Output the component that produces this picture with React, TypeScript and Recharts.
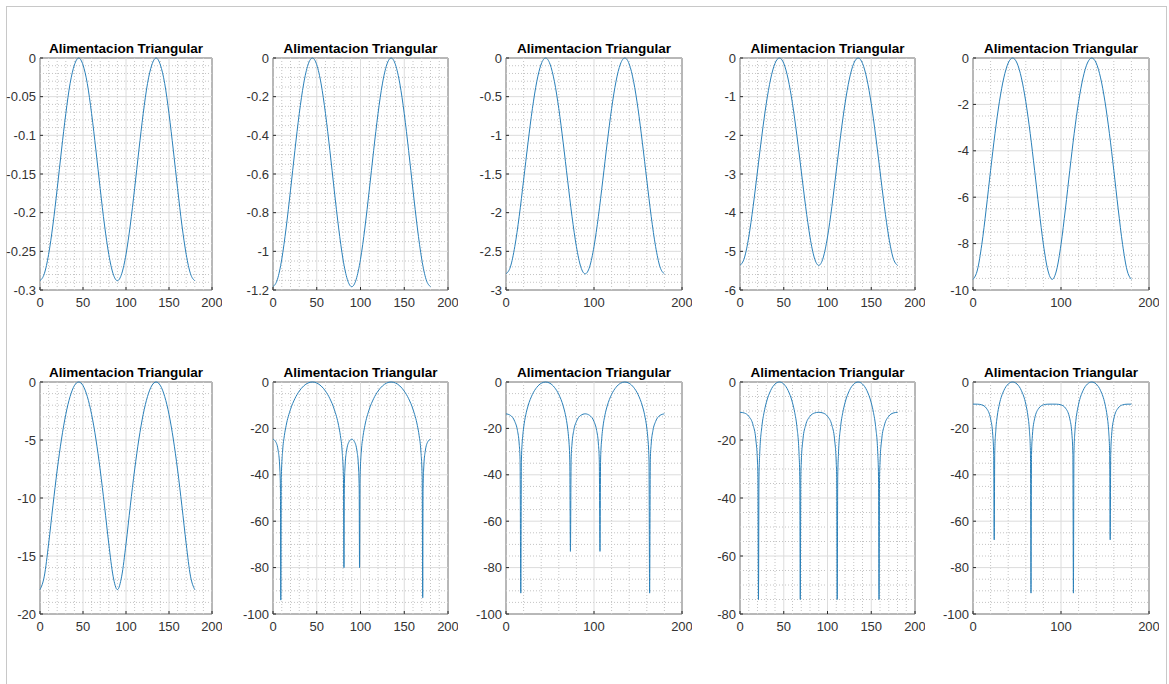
import { LineChart, Line, XAxis, YAxis, ReferenceLine, ReferenceArea } from 'recharts'

const TITLE = 'Alimentacion Triangular'

// angle samples (deg) shared by the smooth patterns
const ANGLES = [0, 5, 10, 15, 20, 25, 30, 35, 40, 45, 50, 55, 60, 65, 70, 75, 80, 85, 90, 95, 100, 105, 110, 115, 120, 125, 130, 135, 140, 145, 150, 155, 160, 165, 170, 175, 180]

const DB_1 = [-0.288, -0.279, -0.254, -0.216, -0.169, -0.119, -0.072, -0.033, -0.009, 0, -0.009, -0.033, -0.072, -0.119, -0.169, -0.216, -0.254, -0.279, -0.288, -0.279, -0.254, -0.216, -0.169, -0.119, -0.072, -0.033, -0.009, 0, -0.009, -0.033, -0.072, -0.119, -0.169, -0.216, -0.254, -0.279, -0.288]
const DB_2 = [-1.183, -1.146, -1.041, -0.879, -0.684, -0.479, -0.288, -0.134, -0.035, 0, -0.035, -0.134, -0.288, -0.479, -0.684, -0.879, -1.041, -1.146, -1.183, -1.146, -1.041, -0.879, -0.684, -0.479, -0.288, -0.134, -0.035, 0, -0.035, -0.134, -0.288, -0.479, -0.684, -0.879, -1.041, -1.146, -1.183]
const DB_3 = [-2.791, -2.701, -2.438, -2.048, -1.579, -1.097, -0.655, -0.303, -0.078, 0, -0.078, -0.303, -0.655, -1.097, -1.579, -2.048, -2.438, -2.701, -2.791, -2.701, -2.438, -2.048, -1.579, -1.097, -0.655, -0.303, -0.078, 0, -0.078, -0.303, -0.655, -1.097, -1.579, -2.048, -2.438, -2.701, -2.791]
const DB_4 = [-5.363, -5.171, -4.63, -3.84, -2.923, -2.003, -1.183, -0.543, -0.138, 0, -0.138, -0.543, -1.183, -2.003, -2.923, -3.84, -4.63, -5.171, -5.363, -5.171, -4.63, -3.84, -2.923, -2.003, -1.183, -0.543, -0.138, 0, -0.138, -0.543, -1.183, -2.003, -2.923, -3.84, -4.63, -5.171, -5.363]
const DB_5 = [-9.542, -9.137, -8.038, -6.51, -4.839, -3.248, -1.887, -0.857, -0.216, 0, -0.216, -0.857, -1.887, -3.248, -4.839, -6.51, -8.038, -9.137, -9.542, -9.137, -8.038, -6.51, -4.839, -3.248, -1.887, -0.857, -0.216, 0, -0.216, -0.857, -1.887, -3.248, -4.839, -6.51, -8.038, -9.137, -9.542]
const DB_6 = [-17.9, -16.74, -13.96, -10.68, -7.58, -4.92, -2.79, -1.25, -0.31, 0, -0.31, -1.25, -2.79, -4.92, -7.58, -10.68, -13.96, -16.74, -17.9, -16.74, -13.96, -10.68, -7.58, -4.92, -2.79, -1.25, -0.31, 0, -0.31, -1.25, -2.79, -4.92, -7.58, -10.68, -13.96, -16.74, -17.9]

// patterns with nulls, sampled tighter around each null
const ANGLES_7 = [0, 3, 6, 7.5, 8.5, 8.9, 9.5, 11, 13, 15, 20, 25, 30, 35, 40, 45, 50, 55, 60, 65, 70, 75, 77, 79, 80.5, 81.1, 81.5, 82.5, 84, 87, 90, 93, 96, 97.5, 98.5, 98.9, 99.5, 101, 103, 105, 110, 115, 120, 125, 130, 135, 140, 145, 150, 155, 160, 165, 167, 169, 170.5, 171.1, 171.5, 172.5, 174, 177, 180]
const DB_7 = [-24.65, -25.69, -29.84, -35.36, -46.1, -94, -41.2, -29.75, -23.07, -18.79, -11.78, -7.18, -3.93, -1.72, -0.43, 0, -0.43, -1.72, -3.93, -7.18, -11.78, -18.79, -23.07, -29.75, -41.2, -80, -46.1, -35.36, -29.84, -25.69, -24.65, -25.69, -29.84, -35.36, -46.1, -80, -41.2, -29.75, -23.07, -18.79, -11.78, -7.18, -3.93, -1.72, -0.43, 0, -0.43, -1.72, -3.93, -7.18, -11.78, -18.79, -23.07, -29.75, -41.2, -93, -46.1, -35.36, -29.84, -25.69, -24.65]

const ANGLES_8 = [0, 5, 10, 13, 15, 16, 16.8, 17.5, 19, 20, 22.5, 25, 30, 35, 40, 45, 50, 55, 60, 65, 67.5, 70, 71, 72.5, 73.2, 74, 75, 77, 80, 85, 90, 95, 100, 103, 105, 106, 106.8, 107.5, 109, 110, 112.5, 115, 120, 125, 130, 135, 140, 145, 150, 155, 157.5, 160, 161, 162.5, 163.2, 164, 165, 167, 170, 175, 180]
const DB_8 = [-13.72, -14.39, -17.03, -20.88, -26.71, -33.53, -91, -33.64, -23.38, -19.83, -14.12, -10.36, -5.36, -2.29, -0.56, 0, -0.56, -2.29, -5.36, -10.36, -14.12, -19.83, -23.38, -33.64, -73, -33.53, -26.71, -20.88, -17.03, -14.39, -13.72, -14.39, -17.03, -20.88, -26.71, -33.53, -73, -33.64, -23.38, -19.83, -14.12, -10.36, -5.36, -2.29, -0.56, 0, -0.56, -2.29, -5.36, -10.36, -14.12, -19.83, -23.38, -33.64, -91, -33.53, -26.71, -20.88, -17.03, -14.39, -13.72]

const ANGLES_9 = [0, 5, 10, 15, 18, 20, 20.5, 21.1, 21.7, 22.5, 25, 27.5, 30, 35, 40, 45, 50, 55, 60, 62.5, 65, 67.5, 68.3, 68.9, 69.5, 70, 72, 75, 80, 85, 90, 95, 100, 105, 108, 110, 110.5, 111.1, 111.7, 112.5, 115, 117.5, 120, 125, 130, 135, 140, 145, 150, 152.5, 155, 157.5, 158.3, 158.9, 159.5, 160, 162, 165, 170, 175, 180]
const DB_9 = [-10.44, -10.71, -11.82, -14.92, -19.61, -27.89, -32.94, -75, -32.64, -24.98, -15.36, -10.48, -7.18, -2.95, -0.71, 0, -0.71, -2.95, -7.18, -10.48, -15.36, -24.98, -32.64, -75, -32.94, -27.89, -19.61, -14.92, -11.82, -10.71, -10.44, -10.71, -11.82, -14.92, -19.61, -27.89, -32.94, -75, -32.64, -24.98, -15.36, -10.48, -7.18, -2.95, -0.71, 0, -0.71, -2.95, -7.18, -10.48, -15.36, -24.98, -32.64, -75, -32.94, -27.89, -19.61, -14.92, -11.82, -10.71, -10.44]

const ANGLES_10 = [0, 5, 10, 15, 20, 22.5, 23.5, 24.1, 24.7, 26, 27.5, 30, 35, 40, 45, 50, 55, 60, 62.5, 64, 65.3, 65.9, 66.5, 67.5, 70, 75, 80, 85, 90, 95, 100, 105, 110, 112.5, 113.5, 114.1, 114.7, 116, 117.5, 120, 125, 130, 135, 140, 145, 150, 152.5, 154, 155.3, 155.9, 156.5, 157.5, 160, 165, 170, 175, 180]
const DB_10 = [-9.54, -9.56, -9.86, -11.21, -15.86, -23.04, -31.22, -68, -30.67, -20.32, -14.87, -9.54, -3.73, -0.88, 0, -0.88, -3.73, -9.54, -14.87, -20.32, -30.67, -91, -31.22, -23.04, -15.86, -11.21, -9.86, -9.56, -9.54, -9.56, -9.86, -11.21, -15.86, -23.04, -31.22, -91, -30.67, -20.32, -14.87, -9.54, -3.73, -0.88, 0, -0.88, -3.73, -9.54, -14.87, -20.32, -30.67, -68, -31.22, -23.04, -15.86, -11.21, -9.86, -9.56, -9.54]

const X_TICKS_50 = [0, 50, 100, 150, 200]
const X_TICKS_100 = [0, 100, 200]
const Y_TICKS_1 = [-0.3, -0.25, -0.2, -0.15, -0.1, -0.05, 0]
const Y_TICKS_2 = [-1.2, -1, -0.8, -0.6, -0.4, -0.2, 0]
const Y_TICKS_3 = [-3, -2.5, -2, -1.5, -1, -0.5, 0]
const Y_TICKS_4 = [-6, -5, -4, -3, -2, -1, 0]
const Y_TICKS_5 = [-10, -8, -6, -4, -2, 0]
const Y_TICKS_6 = [-20, -15, -10, -5, 0]
const Y_TICKS_100 = [-100, -80, -60, -40, -20, 0]
const Y_TICKS_80 = [-80, -60, -40, -20, 0]

const COLS = [40, 273, 506, 740, 973]
const COL_W = [172, 175, 176, 175, 176]
const ROWS = [58, 382]
const PLOT_H = 232

const FONT = '"Liberation Sans", Arial, Helvetica, sans-serif'
const AXIS = '#262626'
const LINE = '#2a80b9'

function minorValues(ticks: number[], step: number) {
  const lo = ticks[0]
  const hi = ticks[ticks.length - 1]
  const out: number[] = []
  const n = Math.round((hi - lo) / step)
  for (let i = 0; i <= n; i++) {
    const v = Math.round((lo + i * step) * 1e6) / 1e6
    if (!ticks.some((t) => Math.abs(t - v) < 1e-6)) out.push(v)
  }
  return out
}

function XTick(props: any) {
  const { x, y, payload } = props
  return (
    <g>
      <line x1={x} y1={y - 8} x2={x} y2={y - 11} stroke={AXIS} />
      <text x={x} y={y} dy="0.71em" textAnchor="middle" fontSize={13} fill="#333" fontFamily={FONT}>
        {payload.value}
      </text>
    </g>
  )
}

function YTick(props: any) {
  const { x, y, payload } = props
  return (
    <g>
      <line x1={x + 4} y1={y} x2={x + 7} y2={y} stroke={AXIS} />
      <text x={x} y={y} dy="0.355em" textAnchor="end" fontSize={13} fill="#333" fontFamily={FONT}>
        {payload.value}
      </text>
    </g>
  )
}

interface PanelProps {
  left: number
  top: number
  width: number
  xs: number[]
  ys: number[]
  xTicks: number[]
  xMinor: number
  yTicks: number[]
  yMinor: number
}

function Panel({ left, top, width, xs, ys, xTicks, xMinor, yTicks, yMinor }: PanelProps) {
  const data = xs.map((x, i) => ({ x, y: ys[i] }))
  const yMin = yTicks[0]
  const yMax = yTicks[yTicks.length - 1]
  const vMinor = minorValues(xTicks, xMinor)
  const hMinor = minorValues(yTicks, yMinor)
  return (
    <>
      <div
        style={{
          position: 'absolute',
          left: left - 20,
          width: width + 40,
          top: top - 16,
          textAlign: 'center',
          fontFamily: FONT,
          fontWeight: 'bold',
          fontSize: 13.5,
          lineHeight: 1,
          color: '#000',
          whiteSpace: 'nowrap'
        }}
      >
        {TITLE}
      </div>
      <div style={{ position: 'absolute', left: left - 45, top: top - 10 }}>
        <LineChart width={width + 55} height={PLOT_H + 40} data={data} margin={{ top: 10, right: 10, bottom: 0, left: 0 }}>
          <XAxis
            type="number"
            dataKey="x"
            domain={[xTicks[0], xTicks[xTicks.length - 1]]}
            ticks={xTicks}
            interval={0}
            height={30}
            tickSize={0}
            tickMargin={8}
            axisLine={false}
            tickLine={false}
            tick={<XTick />}
          />
          <YAxis
            type="number"
            dataKey="y"
            domain={[yMin, yMax]}
            ticks={yTicks}
            interval={0}
            width={45}
            tickSize={0}
            tickMargin={4}
            axisLine={false}
            tickLine={false}
            tick={<YTick />}
          />
          {vMinor.map((v) => (
            <ReferenceLine key={'vm' + v} x={v} stroke="#c4c4c4" strokeDasharray="1 2" />
          ))}
          {hMinor.map((v) => (
            <ReferenceLine key={'hm' + v} y={v} stroke="#c4c4c4" strokeDasharray="1 2" />
          ))}
          {xTicks.map((v) => (
            <ReferenceLine key={'vM' + v} x={v} stroke="#dcdcdc" />
          ))}
          {yTicks.map((v) => (
            <ReferenceLine key={'hM' + v} y={v} stroke="#dcdcdc" />
          ))}
          <Line type="monotone" dataKey="y" stroke={LINE} strokeWidth={1} dot={false} isAnimationActive={false} />
          <ReferenceArea x1={xTicks[0]} x2={xTicks[xTicks.length - 1]} y1={yMin} y2={yMax} fill="none" fillOpacity={0} stroke={AXIS} strokeWidth={1} />
        </LineChart>
      </div>
    </>
  )
}

export default function App() {
  const panels: PanelProps[] = [
    { left: COLS[0], top: ROWS[0], width: COL_W[0], xs: ANGLES, ys: DB_1, xTicks: X_TICKS_50, xMinor: 10, yTicks: Y_TICKS_1, yMinor: 0.01 },
    { left: COLS[1], top: ROWS[0], width: COL_W[1], xs: ANGLES, ys: DB_2, xTicks: X_TICKS_50, xMinor: 10, yTicks: Y_TICKS_2, yMinor: 0.05 },
    { left: COLS[2], top: ROWS[0], width: COL_W[2], xs: ANGLES, ys: DB_3, xTicks: X_TICKS_100, xMinor: 20, yTicks: Y_TICKS_3, yMinor: 0.1 },
    { left: COLS[3], top: ROWS[0], width: COL_W[3], xs: ANGLES, ys: DB_4, xTicks: X_TICKS_50, xMinor: 10, yTicks: Y_TICKS_4, yMinor: 0.2 },
    { left: COLS[4], top: ROWS[0], width: COL_W[4], xs: ANGLES, ys: DB_5, xTicks: X_TICKS_100, xMinor: 20, yTicks: Y_TICKS_5, yMinor: 0.5 },
    { left: COLS[0], top: ROWS[1], width: COL_W[0], xs: ANGLES, ys: DB_6, xTicks: X_TICKS_50, xMinor: 10, yTicks: Y_TICKS_6, yMinor: 1 },
    { left: COLS[1], top: ROWS[1], width: COL_W[1], xs: ANGLES_7, ys: DB_7, xTicks: X_TICKS_50, xMinor: 10, yTicks: Y_TICKS_100, yMinor: 5 },
    { left: COLS[2], top: ROWS[1], width: COL_W[2], xs: ANGLES_8, ys: DB_8, xTicks: X_TICKS_100, xMinor: 20, yTicks: Y_TICKS_100, yMinor: 5 },
    { left: COLS[3], top: ROWS[1], width: COL_W[3], xs: ANGLES_9, ys: DB_9, xTicks: X_TICKS_50, xMinor: 10, yTicks: Y_TICKS_80, yMinor: 5 },
    { left: COLS[4], top: ROWS[1], width: COL_W[4], xs: ANGLES_10, ys: DB_10, xTicks: X_TICKS_100, xMinor: 20, yTicks: Y_TICKS_100, yMinor: 5 }
  ]

  return (
    <div style={{ position: 'absolute', left: 0, top: 0, width: 1169, height: 684, background: '#fff', overflow: 'hidden' }}>
      <div
        style={{
          position: 'absolute',
          left: 6,
          top: 6,
          width: 1159,
          height: 700,
          borderTop: '1px solid #c8c8c8',
          borderLeft: '1px solid #c8c8c8',
          borderRight: '1px solid #c8c8c8'
        }}
      />
      {panels.map((p, i) => (
        <Panel key={i} {...p} />
      ))}
    </div>
  )
}
